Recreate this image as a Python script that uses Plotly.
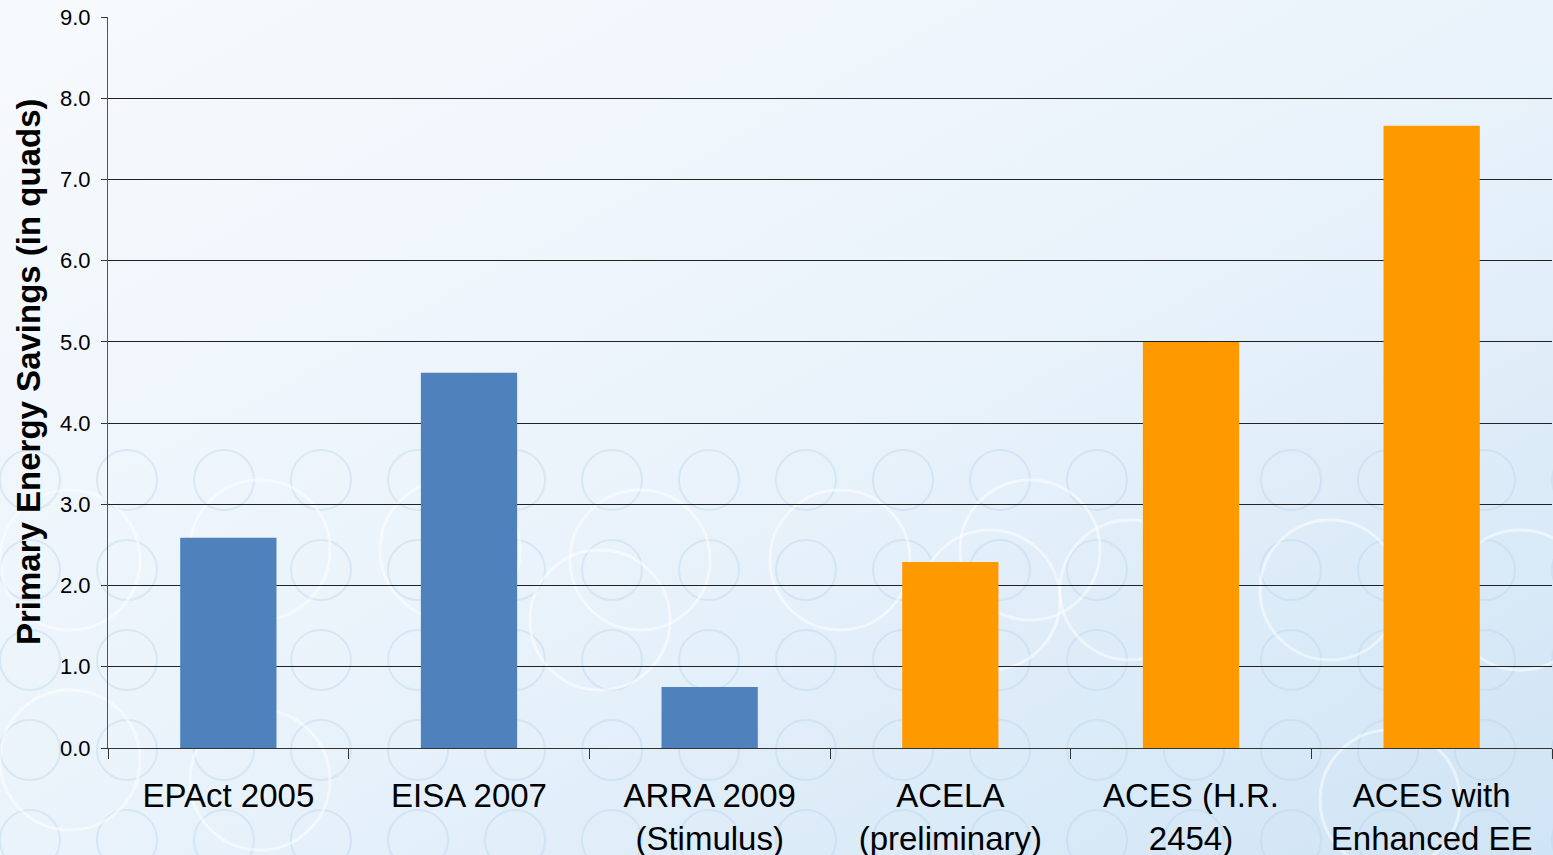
import base64
import plotly.graph_objects as go

categories = ["EPAct 2005", "EISA 2007", "ARRA 2009<br>(Stimulus)", "ACELA<br>(preliminary)",
              "ACES (H.R.<br>2454)", "ACES with<br>Enhanced EE"]
values = [2.59, 4.62, 0.75, 2.29, 5.0, 7.66]
bar_colors = ["#4F81BD", "#4F81BD", "#4F81BD", "#FF9900", "#FF9900", "#FF9900"]
y_ticks = [0, 1, 2, 3, 4, 5, 6, 7, 8, 9]
y_tick_labels = ["0.0", "1.0", "2.0", "3.0", "4.0", "5.0", "6.0", "7.0", "8.0", "9.0"]
y_title = "Primary Energy Savings (in quads)"

# decorative background (gradient + faint circles)
W, H = 1553, 855
L, R, T, B = 108, 1, 17, 107
PW, PH = W - L - R, H - T - B
circ = []
for row_y in [480, 570, 660, 750, 840]:
    for cx in range(30, W + 100, 97):
        circ.append(f'<circle cx="{cx}" cy="{row_y}" r="30" fill="none" stroke="#b9d4ea" stroke-opacity="0.4" stroke-width="2"/>')
for cx, cy in [(70, 560), (260, 550), (450, 550), (640, 560), (840, 560), (1030, 550), (1130, 590),
               (1330, 590), (1520, 600), (70, 760), (260, 780), (600, 620), (990, 600), (1390, 800)]:
    circ.append(f'<circle cx="{cx}" cy="{cy}" r="70" fill="none" stroke="#ffffff" stroke-opacity="0.5" stroke-width="3"/>')
svg = f'''<svg xmlns="http://www.w3.org/2000/svg" width="{W}" height="{H}" viewBox="0 0 {W} {H}">
<defs><linearGradient id="g" x1="0" y1="0" x2="1" y2="1">
<stop offset="0" stop-color="#f7fafd"/><stop offset="0.5" stop-color="#eaf3fb"/><stop offset="1" stop-color="#cfe4f5"/>
</linearGradient></defs>
<rect width="{W}" height="{H}" fill="url(#g)"/>
{''.join(circ)}
</svg>'''
uri = "data:image/svg+xml;base64," + base64.b64encode(svg.encode()).decode()

fig = go.Figure(go.Bar(x=categories, y=values, marker=dict(color=bar_colors, line=dict(width=0)),
                       width=0.4))

fig.update_layout(
    width=W, height=H,
    margin=dict(l=L, r=R, t=T, b=B),
    paper_bgcolor="#eef5fb",
    plot_bgcolor="rgba(0,0,0,0)",
    showlegend=False,
    font=dict(family="Liberation Sans, Arial", color="#000000"),
    images=[dict(source=uri, xref="paper", yref="paper", x=-L / PW, y=1 + T / PH,
                 sizex=W / PW, sizey=H / PH, sizing="stretch", layer="below",
                 xanchor="left", yanchor="top")],
    xaxis=dict(
        tickfont=dict(size=33), tickson="boundaries", ticks="outside", ticklen=10,
        tickcolor="#333333", showline=True, linecolor="#333333", linewidth=1,
        showgrid=False, automargin=False, ticklabelstandoff=18,
    ),
    yaxis=dict(
        range=[0, 9], tickvals=y_ticks, ticktext=y_tick_labels, tickfont=dict(size=22),
        ticks="outside", ticklen=6, tickcolor="#333333", ticklabelstandoff=6,
        showline=True, linecolor="#555555", linewidth=1,
        showgrid=True, gridcolor="#222222", gridwidth=1, zeroline=False,
        automargin=False,
    ),
    annotations=[dict(text=f"<b>{y_title}</b>", textangle=-90, xref="paper", yref="paper",
                      x=(28 - L) / PW, y=(748 - 372) / PH, showarrow=False,
                      font=dict(size=33), xanchor="center", yanchor="middle")],
)

fig.write_html("out.html", config={"displayModeBar": False},
               post_script="document.body.style.margin='0';")
